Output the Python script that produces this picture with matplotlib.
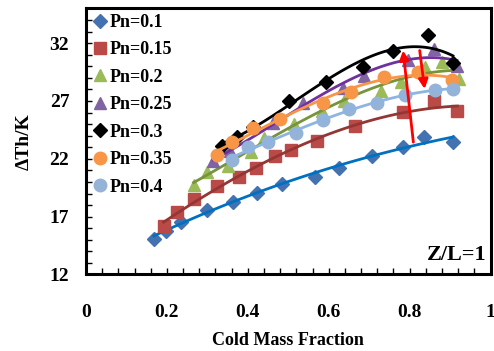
import numpy as np
import matplotlib
matplotlib.use("Agg")
import matplotlib.pyplot as plt
from matplotlib.ticker import MultipleLocator

plt.rcParams["font.family"] = ["Liberation Serif", "DejaVu Serif"]
plt.rcParams["font.weight"] = "bold"

# data (cold mass fraction, delta Th in K)
x_01 = [0.168, 0.198, 0.235, 0.299, 0.363, 0.423, 0.485, 0.566, 0.625, 0.707, 0.784, 0.836, 0.907]
y_01 = [15.11, 15.80, 16.57, 17.61, 18.30, 19.08, 19.85, 20.46, 21.24, 22.27, 23.05, 23.91, 23.48]

x_015 = [0.192, 0.224, 0.266, 0.325, 0.378, 0.421, 0.467, 0.507, 0.570, 0.666, 0.783, 0.860, 0.918]
y_015 = [16.20, 17.36, 18.54, 19.63, 20.42, 21.18, 22.23, 22.76, 23.52, 24.82, 26.01, 26.96, 26.16]

x_02 = [0.266, 0.299, 0.350, 0.407, 0.439, 0.515, 0.583, 0.637, 0.729, 0.779, 0.839, 0.880, 0.923]
y_02 = [19.77, 20.89, 21.37, 22.62, 23.83, 25.03, 26.16, 26.96, 27.88, 28.66, 29.91, 30.41, 28.92]

x_025 = [0.314, 0.356, 0.462, 0.536, 0.635, 0.687, 0.795, 0.860, 0.917]
y_025 = [21.84, 22.70, 25.12, 26.85, 28.14, 29.13, 30.56, 31.51, 30.04]

x_03 = [0.336, 0.373, 0.413, 0.502, 0.593, 0.685, 0.759, 0.846, 0.907]
y_03 = [23.14, 23.91, 24.78, 27.02, 28.66, 29.95, 31.34, 32.72, 30.30]

x_035 = [0.323, 0.361, 0.413, 0.480, 0.585, 0.655, 0.737, 0.821, 0.905]
y_035 = [22.36, 23.48, 24.65, 25.44, 26.85, 27.80, 29.09, 29.52, 28.83]

x_04 = [0.360, 0.400, 0.450, 0.518, 0.586, 0.650, 0.719, 0.789, 0.863, 0.907]
y_04 = [21.93, 23.05, 23.44, 24.26, 25.35, 26.33, 26.80, 27.54, 27.97, 28.03]

labels = ["Pn=0.1", "Pn=0.15", "Pn=0.2", "Pn=0.25", "Pn=0.3", "Pn=0.35", "Pn=0.4"]

x_ticks = [0, 0.2, 0.4, 0.6, 0.8, 1.0]
x_ticklabels = ["0", "0.2", "0.4", "0.6", "0.8", "1"]
y_ticks = [12, 17, 22, 27, 32]

# red arrows (start -> end)
arrow_up = ((0.81, 23.2), (0.783, 31.6))
arrow_down = ((0.824, 31.6), (0.838, 27.8))

series = [
    (x_01, y_01, "D", "#4472B0", "#0070C0", 7),
    (x_015, y_015, "s", "#B94A48", "#943634", 8),
    (x_02, y_02, "^", "#9BBB59", "#77933C", 8.5),
    (x_025, y_025, "^", "#8064A2", "#7030A0", 8.5),
    (x_03, y_03, "D", "black", "black", 7),
    (x_035, y_035, "o", "#F79646", "#F79646", 9),
    (x_04, y_04, "o", "#95B3D7", "#8DB4E2", 9),
]

fig = plt.figure(figsize=(4.94, 3.51), dpi=100)
ax = fig.add_axes([0.174, 0.218, 0.819, 0.758])

for (xs, ys, mk, mc, lc, ms), lab in zip(series, labels):
    ax.plot(xs, ys, linestyle="none", marker=mk, color=mc, ms=ms, label=lab)
    # polynomial trendline like the spreadsheet one
    coef = np.polyfit(xs, ys, 3)
    xf = np.linspace(min(xs), max(xs), 100)
    ax.plot(xf, np.polyval(coef, xf), color=lc, lw=2)

for (x0, y0), (x1, y1) in [arrow_up, arrow_down]:
    ax.annotate("", xy=(x1, y1), xytext=(x0, y0),
                arrowprops=dict(arrowstyle="-|>", color="red", lw=2, mutation_scale=14))

ax.set_xlim(0, 1)
ax.set_ylim(12, 35)
ax.set_xticks(x_ticks)
ax.set_xticklabels(x_ticklabels)
ax.xaxis.set_minor_locator(MultipleLocator(0.04))
ax.set_yticks(y_ticks)
ax.yaxis.set_minor_locator(MultipleLocator(1))
ax.tick_params(which="both", direction="in", length=4, width=1, labelsize=14)
ax.tick_params(axis="x", which="both", pad=21)
ax.tick_params(axis="y", which="both", pad=12)
for sp in ax.spines.values():
    sp.set_linewidth(2.2)

ax.set_xlabel("Cold Mass Fraction", fontsize=13, fontweight="bold", labelpad=8)
ax.set_ylabel("\u0394Th/K", fontsize=14, fontweight="bold", labelpad=12)
ax.text(0.99, 0.035, "Z/L=1", transform=ax.transAxes, ha="right", va="bottom",
        fontsize=16, fontweight="bold")

ax.legend(loc="upper left", frameon=False, handletextpad=0.0,
          handlelength=1.0, labelspacing=0.58, borderaxespad=0.0,
          borderpad=0.3, prop={"weight": "bold", "size": 13})

plt.savefig("out.png", dpi=100)
